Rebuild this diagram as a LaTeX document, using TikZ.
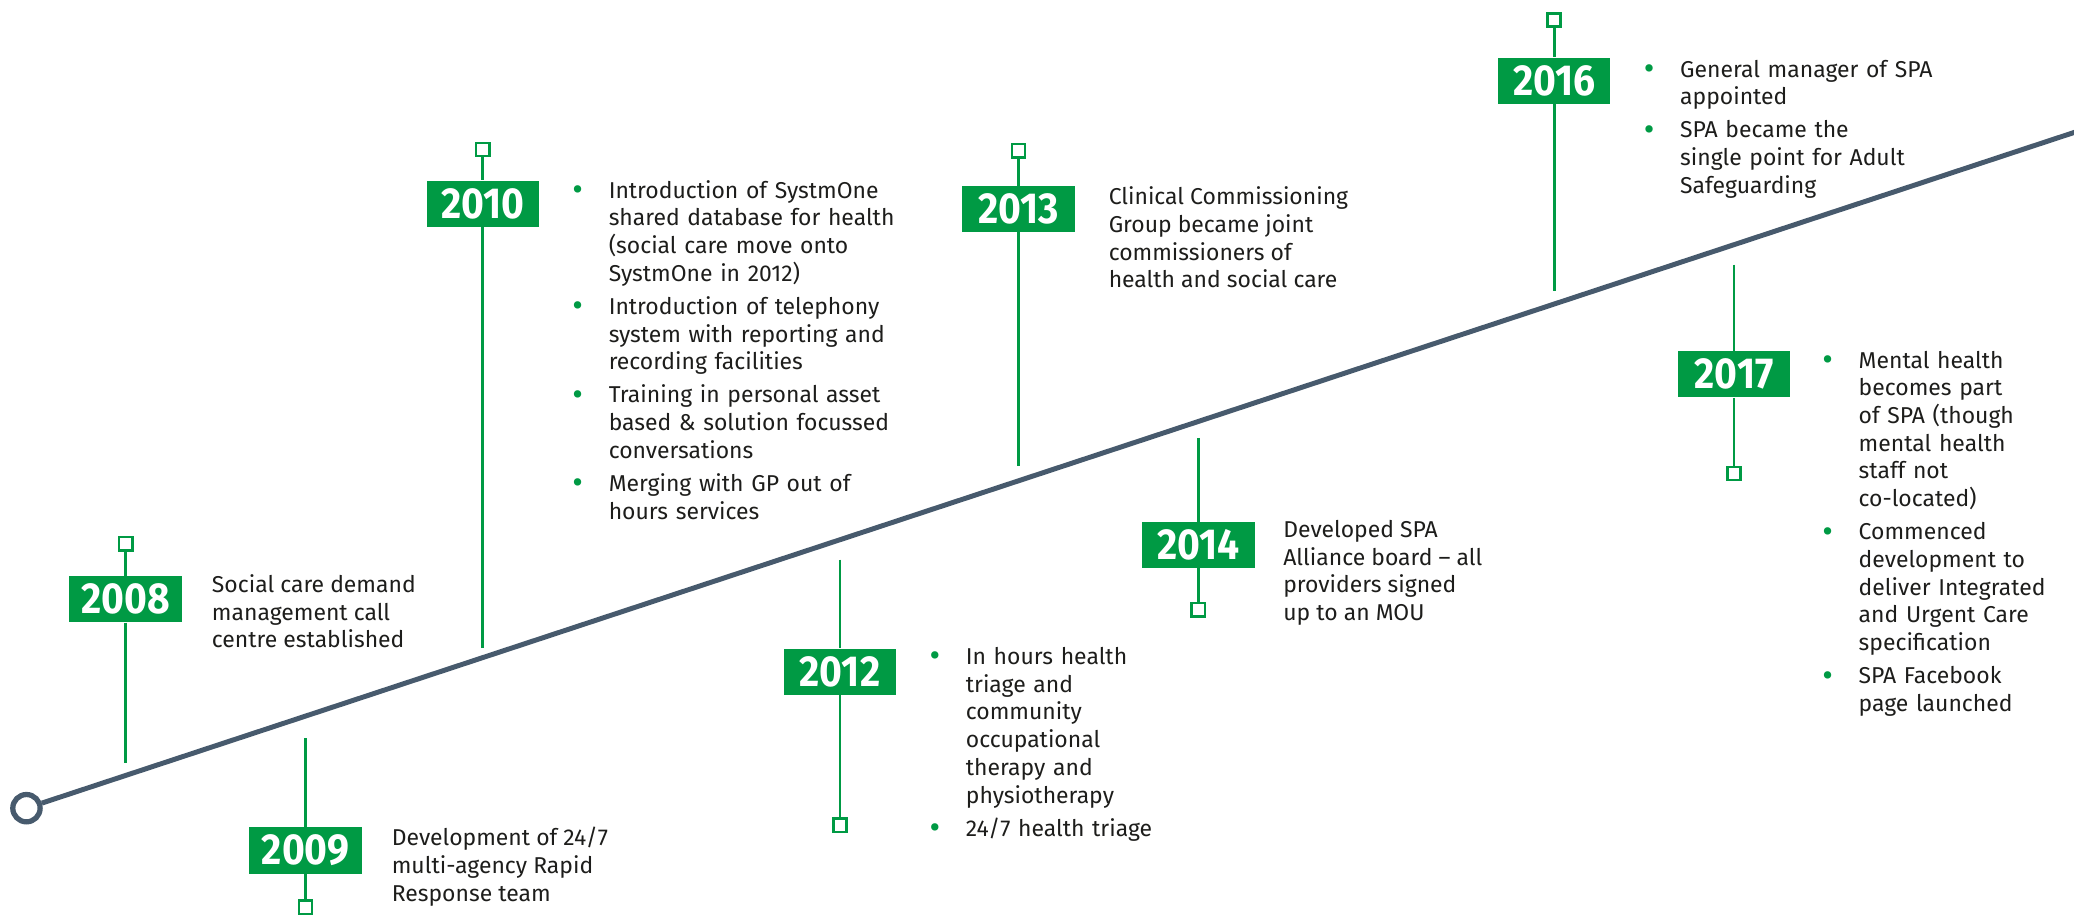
\documentclass[tikz,border=0pt]{standalone}
\usepackage{fontspec}
\setmainfont{Fira Sans}
\newfontfamily\yearfont[FakeStretch=0.9]{Fira Sans}
\usetikzlibrary{positioning}
\definecolor{tlgreen}{RGB}{0,154,68}
\definecolor{tlgrey}{RGB}{71,90,109}
\definecolor{tltext}{RGB}{29,29,27}
\newcommand{\tlitem}[1]{\hangindent=0.825cm\hangafter=1\noindent\makebox[0.825cm][l]{\textcolor{tlgreen}{\raisebox{-1.6pt}{\fontsize{21}{21}\selectfont\textbullet}}}#1\par}

\begin{document}
\begin{tikzpicture}[x=0.03cm, y=-0.03cm,
		year/.style={fill=tlgreen, text=white, font=\yearfont\bfseries\fontsize{28}{29}\selectfont, minimum width=2.55cm, minimum height=1.05cm, inner sep=0pt},
		tick/.style={draw=tlgreen, line width=1.7pt, fill=white, minimum size=0.3cm, inner sep=0pt},
		stem/.style={draw=tlgreen, line width=1.8pt},
		info/.style={anchor=north west, inner sep=0pt, align=left, text=tltext, font=\fontsize{14.8}{17.9}\selectfont},
		list/.style={info, text width=8cm, execute at begin node={\setlength{\parskip}{3.4pt}}}]
		\useasboundingbox (0,0) rectangle (1568,692);

		% the time line
		\node[draw=tlgrey, line width=3.4pt, circle, minimum size=0.62cm, inner sep=0pt] (start) at (20,611) {};
		\coordinate (finish) at (1600,89.6);
		\draw[tlgrey, line width=3.2pt] (start) -- (finish);

		% 2008
		\node[year] (b08) at (95,453) {2008};
		\node[tick] (s08) at (95,411) {};
		\coordinate (e08) at (95,577);
		\draw[stem] (s08) -- (b08) -- (e08);
		\node[info] (t08) at (160,434) {Social care demand\\management call\\centre established};

		% 2009
		\node[year] (b09) at (231,643) {2009};
		\node[tick] (s09) at (231,686) {};
		\coordinate (e09) at (231,558);
		\draw[stem] (e09) -- (b09) -- (s09);
		\node[info] (t09) at (296,625) {Development of 24/7\\multi-agency Rapid\\Response team};

		% 2010
		\node[year] (b10) at (365,154) {2010};
		\node[tick] (s10) at (365,113) {};
		\coordinate (e10) at (365,490);
		\draw[stem] (s10) -- (b10) -- (e10);
		\node[list] (t10) at (432.5,136) {%
			\tlitem{Introduction of SystmOne\newline shared database for health\newline (social care move onto\newline SystmOne in 2012)}
			\tlitem{Introduction of telephony\newline system with reporting and\newline recording facilities}
			\tlitem{Training in personal asset\newline based \& solution focussed\newline conversations}
			\tlitem{Merging with GP out of\newline hours services}};

		% 2012
		\node[year] (b12) at (635,508) {2012};
		\node[tick] (s12) at (635,624) {};
		\coordinate (e12) at (635,423);
		\draw[stem] (e12) -- (b12) -- (s12);
		\node[list] (t12) at (702.5,489) {%
			\tlitem{In hours health\newline triage and\newline community\newline occupational\newline therapy and\newline physiotherapy}
			\tlitem{24/7 health triage}};

		% 2013
		\node[year] (b13) at (770,158) {2013};
		\node[tick] (s13) at (770,114) {};
		\coordinate (e13) at (770,352);
		\draw[stem] (s13) -- (b13) -- (e13);
		\node[info] (t13) at (838,141) {Clinical Commissioning\\Group became joint\\commissioners of\\health and social care};

		% 2014
		\node[year] (b14) at (906,412) {2014};
		\node[tick] (s14) at (906,461) {};
		\coordinate (e14) at (906,331);
		\draw[stem] (e14) -- (b14) -- (s14);
		\node[info] (t14) at (970,393) {Developed SPA\\Alliance board -- all\\providers signed\\up to an MOU};

		% 2016
		\node[year] (b16) at (1175,61) {2016};
		\node[tick] (s16) at (1175,15) {};
		\coordinate (e16) at (1175,220);
		\draw[stem] (s16) -- (b16) -- (e16);
		\node[list] (t16) at (1242.5,45) {%
			\tlitem{General manager of SPA\newline appointed}
			\tlitem{SPA became the\newline single point for Adult\newline Safeguarding}};

		% 2017
		\node[year] (b17) at (1311,283) {2017};
		\node[tick] (s17) at (1311,358) {};
		\coordinate (e17) at (1311,200);
		\draw[stem] (e17) -- (b17) -- (s17);
		\node[list] (t17) at (1377.5,265) {%
			\tlitem{Mental health\newline becomes part\newline of SPA (though\newline mental health\newline staff not\newline co-located)}
			\tlitem{Commenced\newline development to\newline deliver Integrated\newline and Urgent Care\newline specification}
			\tlitem{SPA Facebook\newline page launched}};
	\end{tikzpicture}
\end{document}
